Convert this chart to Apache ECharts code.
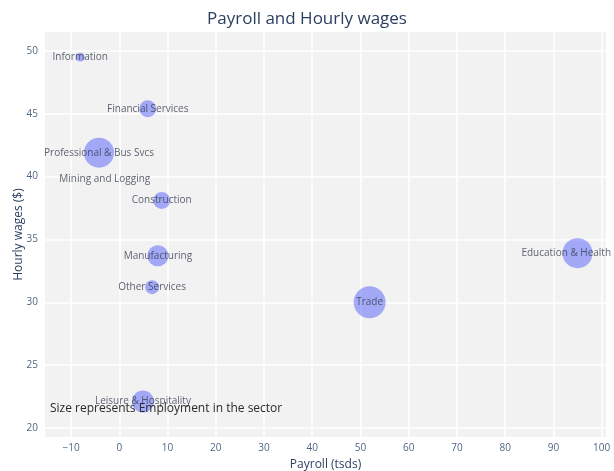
<!DOCTYPE html>
<html>
<head>
    <meta charset="utf-8" />
    <title>Payroll and Hourly wages</title>
    <script src="https://cdn.jsdelivr.net/npm/echarts@6.0.0/dist/echarts.min.js"></script>
    <style>
        html, body { margin: 0; padding: 0; background: #fff; }
        #main { width: 614px; height: 471px; }
    </style>
</head>
<body>
    <div id="main"></div>
    <script type="text/javascript">
        var sectors = ['Information', 'Financial Services', 'Professional & Bus Svcs', 'Mining and Logging',
            'Construction', 'Manufacturing', 'Other Services', 'Trade', 'Education & Health Svcs', 'Leisure & Hospitality'];
        var payroll = [-8.1, 5.9, -4.2, -3.0, 8.8, 8.0, 6.8, 51.9, 95.0, 4.9];
        var wages = [49.5, 45.4, 41.9, 39.8, 38.1, 33.7, 31.2, 30.0, 33.9, 22.1];
        var employment = [20, 72, 225, 0, 72, 110, 49, 256, 225, 121];

        var xTicks = [-10, 0, 10, 20, 30, 40, 50, 60, 70, 80, 90, 100];
        var yTicks = [20, 25, 30, 35, 40, 45, 50];

        var font = '"Open Sans", "DejaVu Sans", sans-serif';
        var myChart = echarts.init(document.getElementById('main'));

        var option = {
            backgroundColor: '#ffffff',
            animation: false,
            title: {
                text: 'Payroll and Hourly wages',
                left: 'center',
                top: 6,
                textStyle: { fontFamily: font, fontSize: 17, fontWeight: 'normal', color: '#2a3f5f' }
            },
            grid: {
                left: 45, right: 8, top: 32, bottom: 34,
                outerBoundsMode: 'none',
                containLabel: false,
                show: true, backgroundColor: '#f2f2f2', borderWidth: 0
            },
            xAxis: {
                type: 'value',
                min: -15.4,
                max: 100.9,
                name: 'Payroll (tsds)',
                nameLocation: 'middle',
                nameGap: 22,
                nameMoveOverlap: false,
                nameTextStyle: { fontFamily: font, fontSize: 12, color: '#2a3f5f' },
                axisLine: { show: false },
                axisTick: { show: false, customValues: xTicks },
                axisLabel: {
                    customValues: xTicks,
                    fontFamily: font, fontSize: 10, color: '#506784', margin: 6,
                    formatter: function (v) { return String(v).replace('-', '\u2212'); }
                },
                splitLine: { lineStyle: { color: '#ffffff', width: 1.5 } }
            },
            yAxis: {
                type: 'value',
                min: 19.28,
                max: 51.5,
                name: 'Hourly wages ($)',
                nameLocation: 'middle',
                nameGap: 20,
                nameMoveOverlap: false,
                nameTextStyle: { fontFamily: font, fontSize: 12, color: '#2a3f5f' },
                axisLine: { show: false },
                axisTick: { show: false, customValues: yTicks },
                axisLabel: {
                    customValues: yTicks,
                    fontFamily: font, fontSize: 10, color: '#506784', margin: 7
                },
                splitLine: { lineStyle: { color: '#ffffff', width: 1.5 } }
            },
            graphic: [{
                type: 'text',
                left: 50,
                top: 403,
                z: 100,
                style: {
                    text: 'Size represents Employment in the sector',
                    fontFamily: font, fontSize: 12, fill: '#2a2a2a'
                }
            }],
            series: [{
                type: 'scatter',
                data: sectors.map(function (s, i) {
                    return { name: s, value: [payroll[i], wages[i], employment[i]] };
                }),
                symbolSize: function (v) { return Math.max(2 * Math.sqrt(v[2]), 0.01); },
                itemStyle: { color: 'rgba(99, 110, 250, 0.7)' },
                label: {
                    show: true,
                    position: 'inside',
                    formatter: '{b}',
                    fontFamily: font,
                    fontSize: 10,
                    color: '#353c4e'
                },
                labelLayout: { hideOverlap: false }
            }]
        };
        myChart.setOption(option);
    </script>
</body>
</html>
